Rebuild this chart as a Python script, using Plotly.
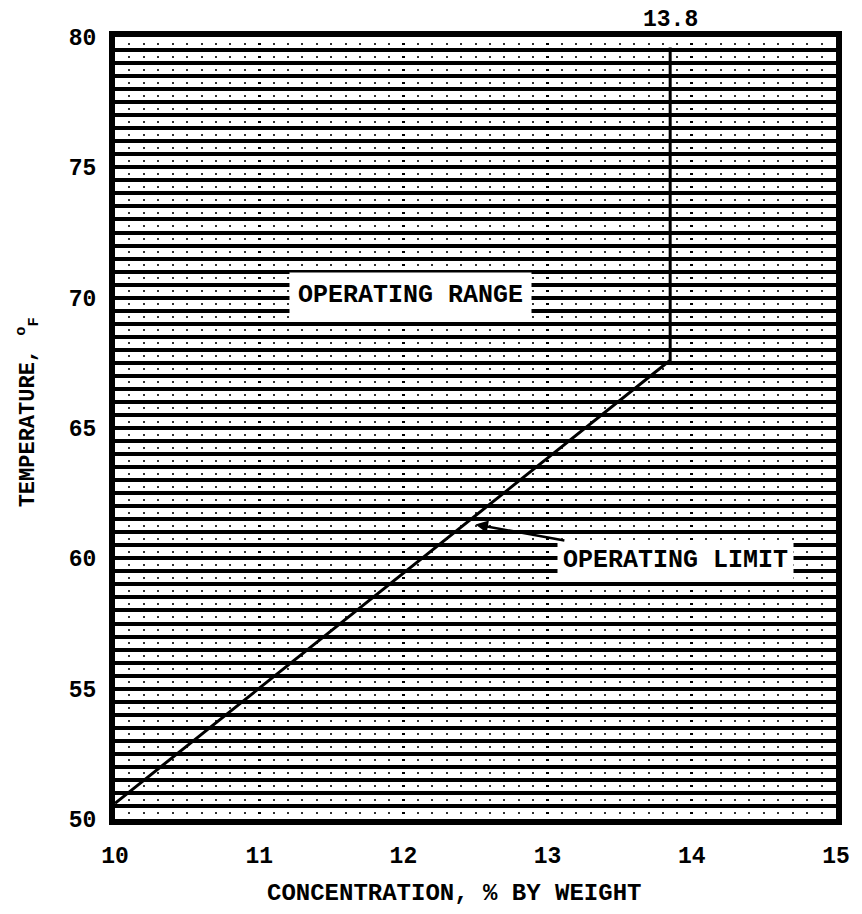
import plotly.graph_objects as go

# ---- data ----
limit_conc = [10.0, 13.85, 13.85]      # % by weight
limit_temp = [50.6, 67.6, 79.6]        # deg F
x_ticks = [10, 11, 12, 13, 14, 15]
x_labels = ["10", "11", "12", "13", "14", "15"]
y_ticks = [50, 55, 60, 65, 70, 75, 80]
y_labels = ["50", "55", "60", "65", "70", "75", "80"]

FONT = "Liberation Mono"

fig = go.Figure()
fig.add_trace(go.Scatter(x=limit_conc, y=limit_temp, mode="lines",
                         line=dict(color="black", width=3), showlegend=False,
                         hoverinfo="skip"))

dots = "0px,5.5px,2px,5.535px"

fig.update_xaxes(range=[10, 15], tickvals=x_ticks, ticktext=x_labels,
                 showgrid=True, gridcolor="black", gridwidth=2.8, griddash=dots,
                 minor=dict(dtick=0.1, showgrid=True, gridcolor="#333", gridwidth=1.8,
                            griddash=dots, ticks=""),
                 zeroline=False, showline=True, linecolor="black", linewidth=6, mirror=True,
                 ticks="", ticklabelstandoff=10,
                 tickfont=dict(family=FONT, size=23, color="black", weight="bold"))
fig.update_yaxes(range=[50, 80], tickvals=y_ticks, ticktext=y_labels,
                 showgrid=True, gridcolor="black", gridwidth=3.5,
                 minor=dict(dtick=0.5, showgrid=True, gridcolor="black", gridwidth=3.5, ticks=""),
                 zeroline=False, showline=True, linecolor="black", linewidth=6, mirror=True,
                 ticks="", ticklabelstandoff=8,
                 tickfont=dict(family=FONT, size=23, color="black", weight="bold"))

ann_font = dict(family=FONT, size=25, color="black", weight="bold")
fig.add_annotation(x=12.05, y=70.1, text="OPERATING RANGE", showarrow=False,
                   bgcolor="white", borderpad=8, font=ann_font)
# label with leader arrow pointing to the operating-limit line
fig.add_annotation(x=12.5, y=61.3, text="OPERATING LIMIT", showarrow=True,
                   ax=200, ay=36, arrowhead=2, arrowsize=1, arrowwidth=2.5,
                   arrowcolor="black", bgcolor="white", borderpad=5, font=ann_font)
fig.add_annotation(x=13.85, y=1, yref="paper", yanchor="bottom", yshift=2,
                   text="13.8", showarrow=False,
                   font=dict(family=FONT, size=23, color="black", weight="bold"))
fig.add_annotation(x=0.47, y=0, xref="paper", yref="paper", yanchor="middle", yshift=-74,
                   text="CONCENTRATION, % BY WEIGHT", showarrow=False,
                   font=dict(family=FONT, size=24, color="black", weight="bold"))
fig.add_annotation(x=0, y=0.52, xref="paper", yref="paper", xanchor="center", xshift=-87,
                   textangle=-90, text="TEMPERATURE, <sup>o</sup><sub>F</sub>", showarrow=False,
                   font=dict(family=FONT, size=22, color="black", weight="bold"))

fig.update_layout(width=862, height=914, margin=dict(l=115, r=14, t=37, b=95),
                  paper_bgcolor="white", plot_bgcolor="white")
fig.write_html("out.html")
